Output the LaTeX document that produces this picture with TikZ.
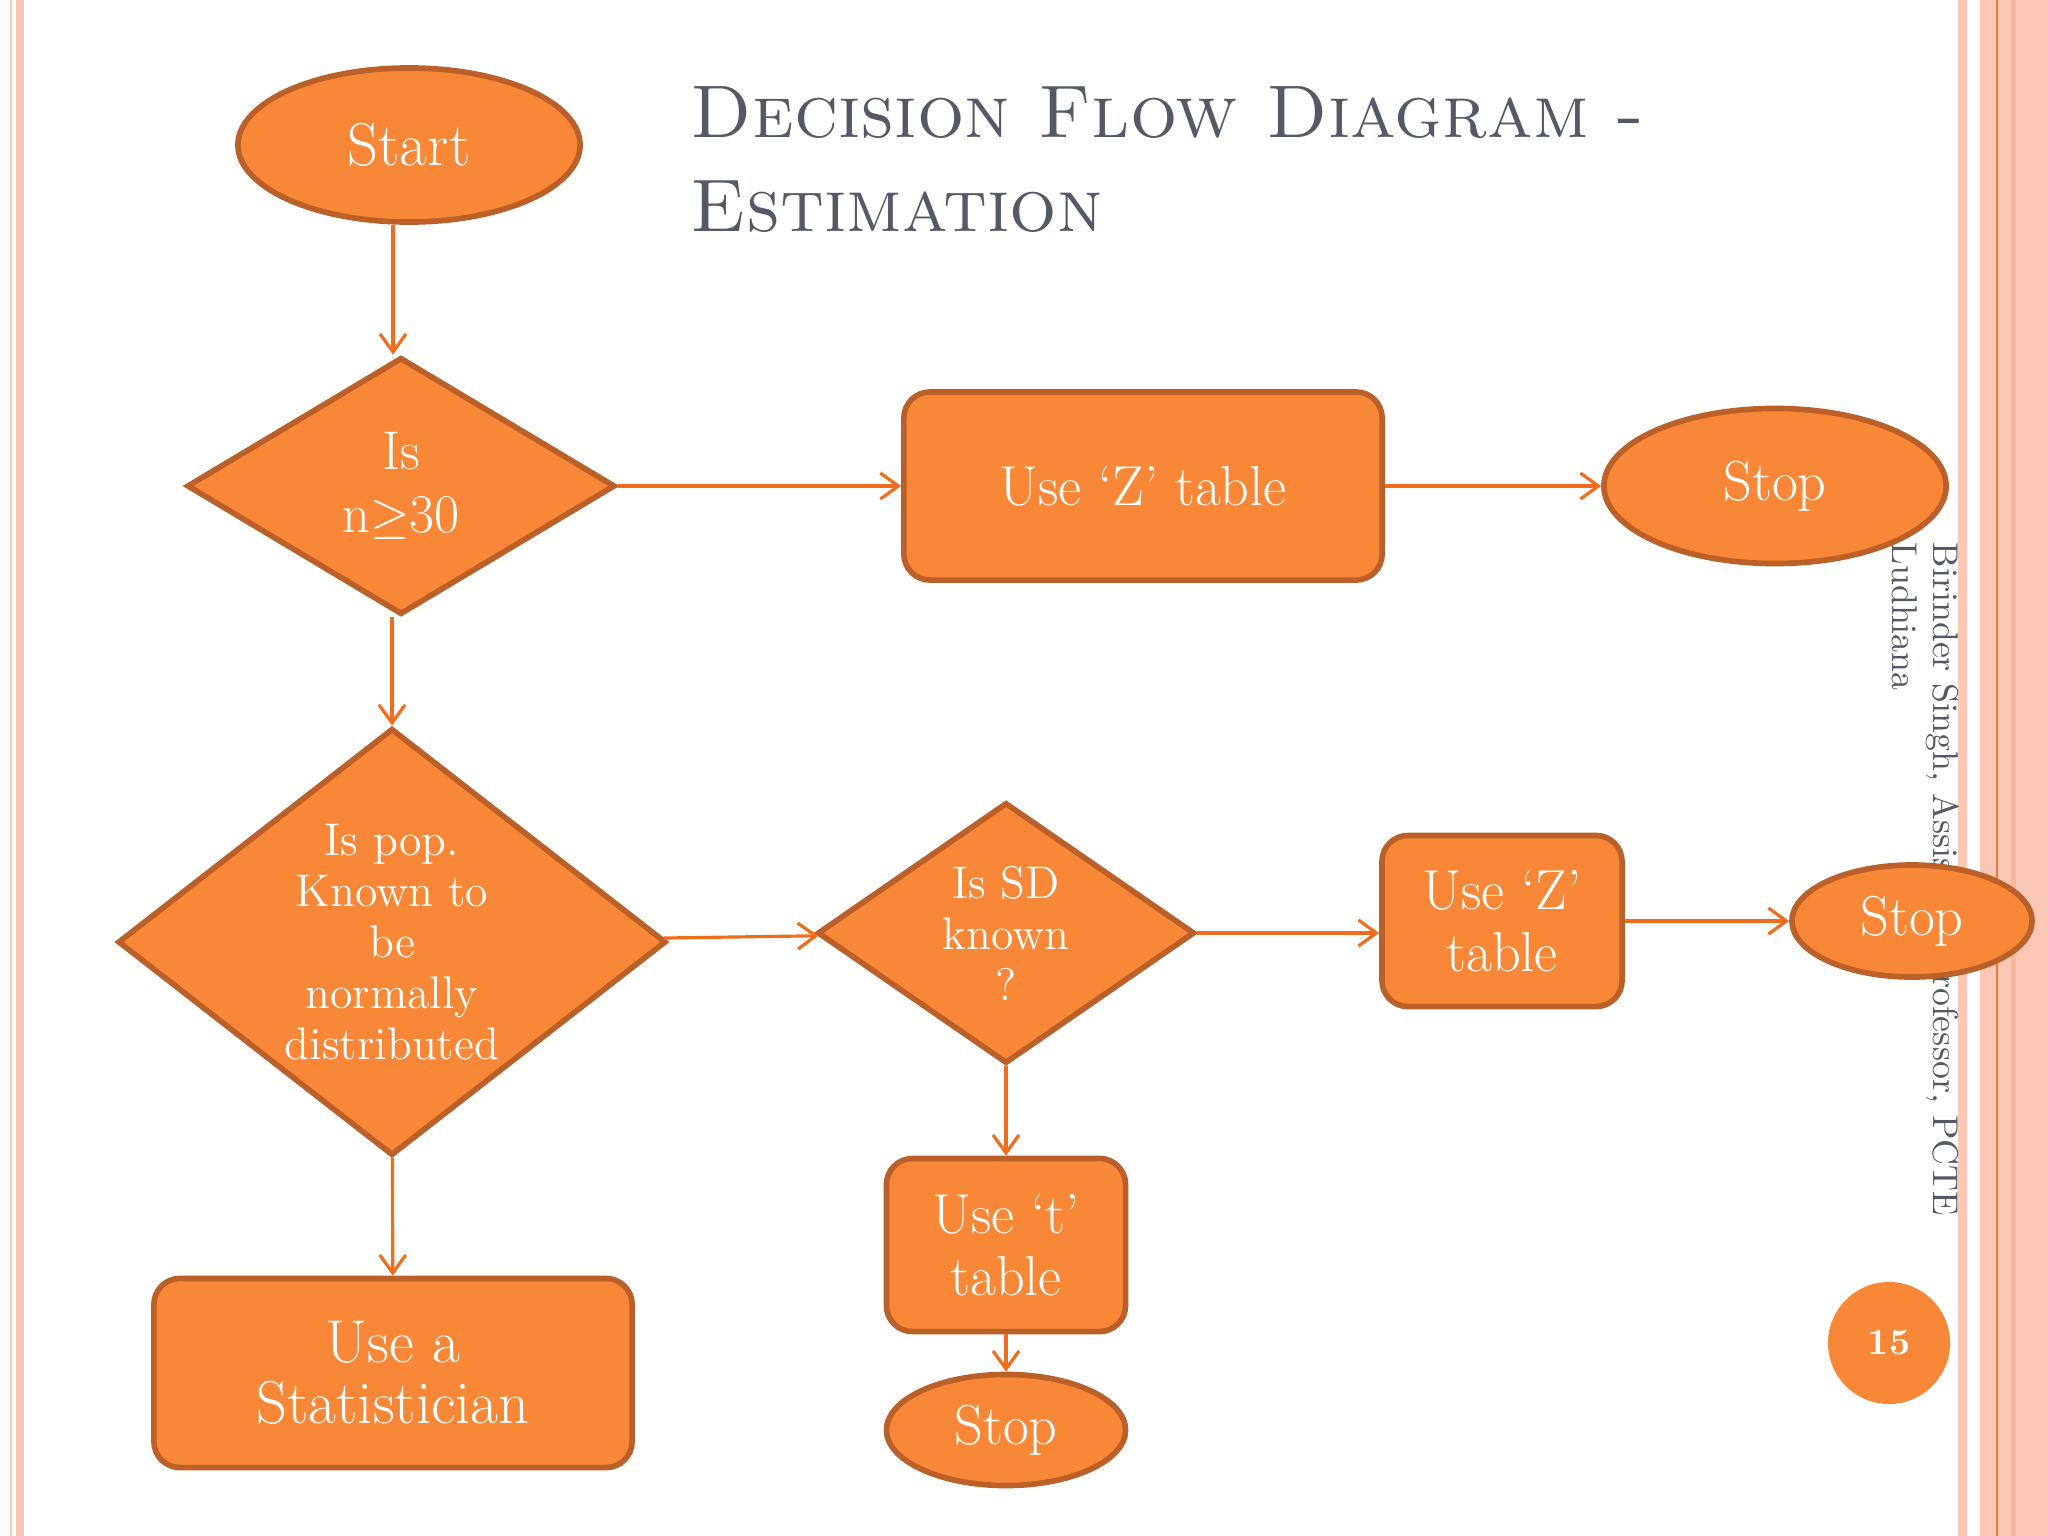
\documentclass[tikz,border=0pt]{standalone}
\usepackage{fontspec}
\usetikzlibrary{shapes.geometric,arrows.meta}

\definecolor{nodefill}{RGB}{248,136,56}
\definecolor{nodeedge}{RGB}{186,96,40}
\definecolor{flowcol}{RGB}{242,108,28}
\definecolor{slategrey}{RGB}{84,89,104}
\definecolor{stripe}{RGB}{250,200,180}
\definecolor{stripedark}{RGB}{240,122,58}

\newcommand{\boxfont}{\fontsize{16}{17.5}\selectfont}
\newcommand{\wideboxfont}{\fontsize{17.2}{17.5}\selectfont}
\newcommand{\askfont}{\fontsize{13}{14.5}\selectfont}

\tikzset{
  terminal/.style={ellipse, draw=nodeedge, fill=nodefill, line width=1.6pt, text=white, inner sep=0pt, font=\boxfont},
  decision/.style={diamond, draw=nodeedge, fill=nodefill, line width=1.6pt, text=white, inner sep=0pt, align=center, font=\askfont},
  process/.style={rectangle, rounded corners=2.6mm, draw=nodeedge, fill=nodefill, line width=1.6pt, text=white, inner sep=0pt, align=center, font=\boxfont},
  flow/.style={draw=flowcol, line width=0.9pt, -{Straight Barb[length=1.8mm,width=2.6mm]}}
}

\begin{document}
\begin{tikzpicture}[x=0.01cm, y=-0.01cm]
    \useasboundingbox (0,0) rectangle (2048,1536);
    \fill [white] (0,0) rectangle (2048,1536);
    % page edges
    \fill [stripe] (10,0) rectangle (12,1536);
    \fill [stripe] (16,0) rectangle (24,1536);
    \fill [stripe] (1958,0) rectangle (1967,1536);
    \fill [stripe] (1980,0) rectangle (2048,1536);
    \fill [stripedark] (1996,0) rectangle (1998,1536);
    \fill [stripe!80!stripedark] (2011,0) rectangle (2016,1536);

    % title and side text
    \node [anchor=base west, inner sep=0pt, text=slategrey, font=\fontsize{21.2}{25}\selectfont] (title1) at (690,137) {\textsc{Decision Flow Diagram -}};
    \node [anchor=base west, inner sep=0pt, text=slategrey, font=\fontsize{21.2}{25}\selectfont] (title2) at (690,231) {\textsc{Estimation}};
    \node [rotate=-90, anchor=north west, inner sep=0pt, align=left, text=slategrey, font=\fontsize{10.2}{11.7}\selectfont] (author) at (1960,542) {Birinder Singh, Assistant Professor, PCTE\\Ludhiana};

    % flow chart
    \node [terminal, minimum width=3.42cm, minimum height=1.54cm, font=\wideboxfont] (start) at (409,145) {Start};
    \node [decision, minimum width=4.28cm, minimum height=2.57cm, font=\fontsize{15.5}{18}\selectfont] (large) at (401,486) {Is\\n$\geq$30};
    \node [process, minimum width=4.78cm, minimum height=1.88cm] (ztab) at (1143,486) {Use ‘Z’ table};
    \node [terminal, minimum width=3.42cm, minimum height=1.55cm] (stopa) at (1775,486) {Stop};
    \node [decision, shape aspect=1.28, minimum width=5.48cm, minimum height=4.27cm] (normal) at (392,942) {Is pop.\\Known to\\be\\normally\\distributed};
    \node [decision, minimum width=3.77cm, minimum height=2.57cm] (sdknown) at (1006,933) {Is SD\\known\\?};
    \node [process, minimum width=2.40cm, minimum height=1.71cm] (zsmall) at (1502,921) {Use ‘Z’\\table};
    \node [terminal, minimum width=2.40cm, minimum height=1.12cm] (stopb) at (1912,921) {Stop};
    \node [process, minimum width=2.39cm, minimum height=1.73cm] (ttab) at (1006,1245) {Use ‘t’\\table};
    \node [terminal, minimum width=2.39cm, minimum height=1.11cm] (stopc) at (1006,1430) {Stop};
    \node [process, minimum width=4.78cm, minimum height=1.89cm, font=\wideboxfont] (expert) at (393,1373) {Use a\\Statistician};

    \draw [flow] (start.south -| expert) -- (expert |- large.north);
    \draw [flow] (large) -- (ztab);
    \draw [flow] (ztab) -- (stopa);
    \draw [flow] (normal.north |- large.south) -- (normal.north);
    \draw [flow] (normal) -- (sdknown);
    \draw [flow] (sdknown.east) -- (sdknown.east -| zsmall.west);
    \draw [flow] (zsmall) -- (stopb);
    \draw [flow] (sdknown) -- (ttab);
    \draw [flow] (ttab) -- (stopc);
    \draw [flow] (normal) -- (expert);

    % page number
    \node [circle, fill=nodefill, minimum size=1.22cm, inner sep=0pt, text=white, font=\fontsize{10.5}{12}\selectfont\bfseries] (pageno) at (1889,1343) {15};
\end{tikzpicture}
\end{document}
